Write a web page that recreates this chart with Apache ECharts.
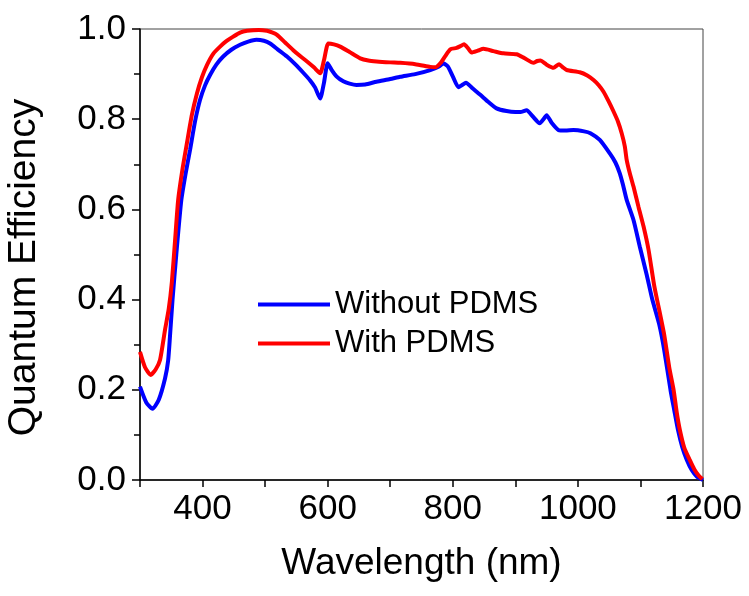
<!DOCTYPE html>
<html>
<head>
<meta charset="utf-8">
<script src="https://cdn.jsdelivr.net/npm/echarts@6/dist/echarts.min.js"></script>
<style>
    html, body { margin: 0; padding: 0; background: #fff; }
    #chart { width: 749px; height: 596px; }
</style>
</head>
<body>
<div id="chart"></div>
<script>
// Without PDMS (blue)
var wlWithout = [300, 310, 320, 330, 340, 345, 348, 352, 358, 366, 373, 380, 388, 396, 404, 412, 422, 433, 446, 460,
    473, 486, 498, 508, 520, 535, 548, 561, 572, 580, 588, 594, 600, 606, 614, 625, 635, 646, 660, 678,
    700, 716, 740, 764, 778, 785, 792, 800, 809, 815, 821, 832, 844, 857, 870, 886, 900, 908, 918, 928,
    939, 945, 950, 958, 969, 980, 993, 1010, 1020, 1035, 1051, 1060, 1067, 1072, 1078, 1089, 1099, 1110, 1119, 1130,
    1138, 1148, 1154, 1160, 1167, 1174, 1182, 1190, 1200];
var qeWithout = [0.207, 0.172, 0.158, 0.178, 0.225, 0.265, 0.32, 0.40, 0.50, 0.62, 0.68, 0.732, 0.795, 0.843, 0.875, 0.898, 0.921, 0.939, 0.954, 0.965,
    0.972, 0.976, 0.974, 0.968, 0.955, 0.939, 0.922, 0.903, 0.886, 0.870, 0.846, 0.880, 0.924, 0.910, 0.895, 0.884, 0.879, 0.876, 0.877, 0.883,
    0.889, 0.894, 0.900, 0.909, 0.917, 0.924, 0.917, 0.895, 0.871, 0.876, 0.881, 0.868, 0.854, 0.838, 0.824, 0.818, 0.816, 0.816, 0.820, 0.806,
    0.791, 0.800, 0.809, 0.792, 0.776, 0.775, 0.776, 0.773, 0.769, 0.754, 0.724, 0.704, 0.680, 0.655, 0.621, 0.576, 0.517, 0.455, 0.400, 0.345,
    0.288, 0.200, 0.155, 0.111, 0.072, 0.045, 0.022, 0.008, 0.0];

// With PDMS (red)
var wlWith = [300, 308, 317, 325, 332, 340, 346, 351, 356, 361, 368, 375, 383, 391, 399, 407, 417, 428, 438, 449,
    460, 471, 490, 503, 512, 519, 532, 545, 556, 567, 578, 588, 594, 601, 610, 620, 635, 652, 665, 678,
    700, 716, 740, 764, 772, 780, 788, 796, 806, 812, 818, 824, 830, 840, 849, 865, 881, 902, 915, 929,
    935, 940, 950, 961, 970, 976, 982, 1003, 1015, 1025, 1033, 1041, 1049, 1057, 1064, 1070, 1075, 1078, 1083, 1089,
    1097, 1105, 1113, 1122, 1130, 1138, 1146, 1153, 1158, 1163, 1170, 1179, 1186, 1193, 1199];
var qeWith = [0.284, 0.25, 0.233, 0.245, 0.266, 0.333, 0.38, 0.44, 0.53, 0.621, 0.69, 0.747, 0.81, 0.857, 0.893, 0.92, 0.945, 0.961, 0.973, 0.983,
    0.992, 0.996, 0.998, 0.996, 0.992, 0.987, 0.970, 0.953, 0.940, 0.928, 0.915, 0.902, 0.930, 0.968, 0.966, 0.961, 0.949, 0.935, 0.930, 0.928,
    0.926, 0.925, 0.922, 0.916, 0.915, 0.924, 0.940, 0.955, 0.958, 0.962, 0.966, 0.958, 0.948, 0.952, 0.956, 0.951, 0.946, 0.944, 0.935, 0.925,
    0.929, 0.930, 0.921, 0.914, 0.922, 0.915, 0.909, 0.904, 0.897, 0.887, 0.876, 0.861, 0.840, 0.817, 0.795, 0.769, 0.740, 0.710, 0.680, 0.650,
    0.605, 0.562, 0.510, 0.431, 0.377, 0.322, 0.250, 0.200, 0.150, 0.111, 0.072, 0.044, 0.024, 0.010, 0.002];

var xLabels = [400, 600, 800, 1000, 1200];

function pairs(xs, ys) {
    var out = [];
    for (var i = 0; i < xs.length; i++) {
        out.push([xs[i], ys[i]]);
    }
    return out;
}

var font = '"Liberation Sans", Arial, sans-serif';
var myChart = echarts.init(document.getElementById('chart'));

var option = {
    animation: false,
    grid: {
        left: 140,
        right: 46,
        top: 29,
        bottom: 116,
        outerBoundsMode: 'none',
        show: true,
        borderColor: '#444',
        borderWidth: 1
    },
    legend: {
        orient: 'vertical',
        left: 258,
        top: 289,
        padding: 0,
        icon: 'rect',
        itemWidth: 72,
        itemHeight: 4,
        itemGap: 8,
        textStyle: { fontFamily: font, fontSize: 31, color: '#000', lineHeight: 30 },
        data: ['Without PDMS', 'With PDMS']
    },
    xAxis: {
        type: 'value',
        min: 300,
        max: 1200,
        interval: 100,
        name: 'Wavelength (nm)',
        nameLocation: 'middle',
        nameGap: 65,
        nameTextStyle: { fontFamily: font, fontSize: 37, color: '#000' },
        axisLine: { lineStyle: { color: '#000', width: 1.5 } },
        axisTick: { show: true, length: 7, lineStyle: { color: '#000', width: 1.5 } },
        axisLabel: {
            fontFamily: font, fontSize: 35, color: '#000', margin: 12,
            formatter: function (v) { return xLabels.indexOf(v) >= 0 ? String(v) : ''; }
        },
        splitLine: { show: false }
    },
    yAxis: {
        type: 'value',
        min: 0,
        max: 1,
        interval: 0.2,
        name: 'Quantum Efficiency',
        nameLocation: 'middle',
        nameGap: 96,
        nameTextStyle: { fontFamily: font, fontSize: 39, color: '#000', padding: [0, 26, 0, 0] },
        axisLine: { lineStyle: { color: '#000', width: 1.5 } },
        axisTick: { show: true, length: 8, lineStyle: { color: '#000', width: 1.5 } },
        minorTick: { show: true, splitNumber: 2, length: 6, lineStyle: { color: '#000', width: 1.5 } },
        axisLabel: {
            fontFamily: font, fontSize: 35, color: '#000', margin: 14,
            formatter: function (v) { return v.toFixed(1); }
        },
        splitLine: { show: false }
    },
    series: [
        {
            name: 'Without PDMS',
            type: 'line',
            symbol: 'none',
            smooth: 0.2,
            color: '#0000FF',
            lineStyle: { width: 4, color: '#0000FF' },
            data: pairs(wlWithout, qeWithout)
        },
        {
            name: 'With PDMS',
            type: 'line',
            symbol: 'none',
            smooth: 0.2,
            color: '#FF0000',
            lineStyle: { width: 4, color: '#FF0000' },
            data: pairs(wlWith, qeWith)
        }
    ]
};

myChart.setOption(option);
</script>
</body>
</html>
